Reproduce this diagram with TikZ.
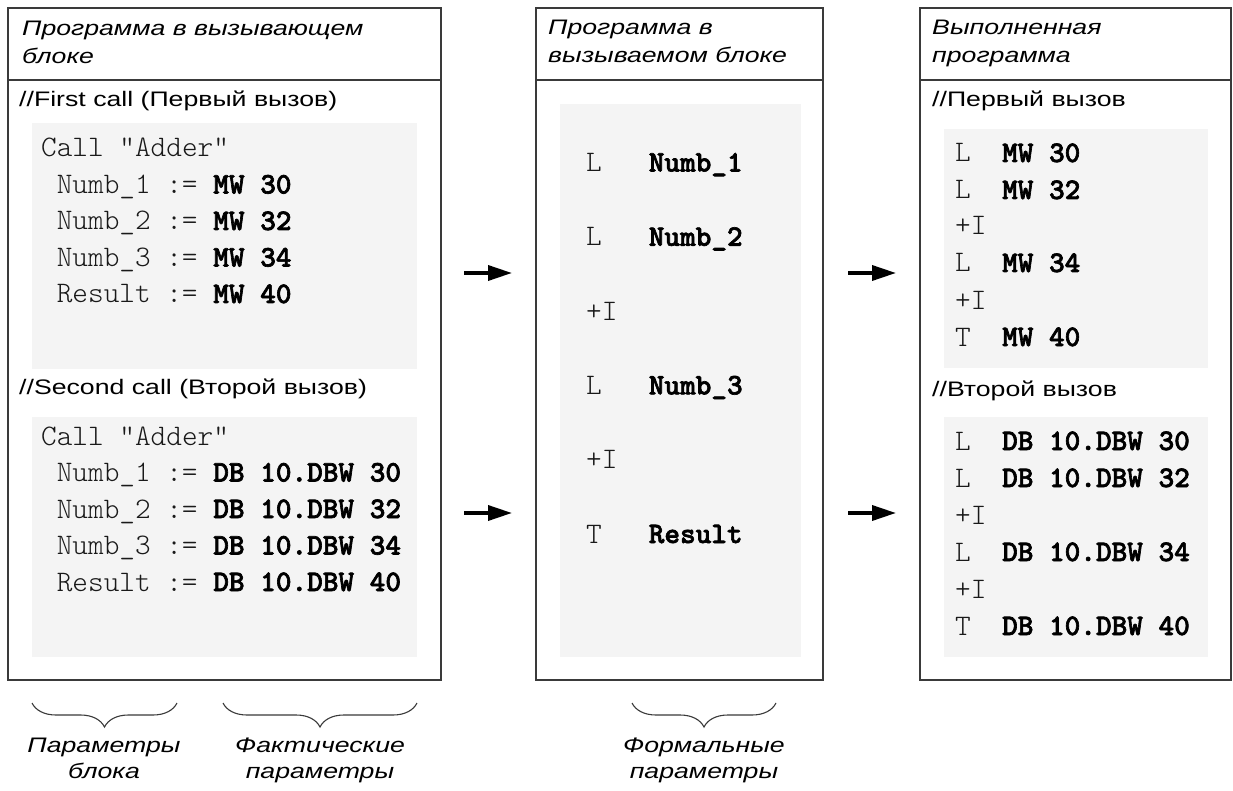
\documentclass[tikz,border=0pt]{standalone}
\usepackage{fontspec}
\setmainfont{Liberation Sans}[FakeStretch=1.27]
\newfontfamily\codeheavy{lmmonolt10-bold.otf}[FakeBold=2.2]
\usetikzlibrary{arrows.meta,decorations.pathreplacing}
\definecolor{codebg}{HTML}{F4F4F4}
\definecolor{framecol}{HTML}{3A3A3A}
\newcommand{\kw}[1]{{\codeheavy\color{black}#1}}
\begin{document}
\begin{tikzpicture}[x=1pt,y=-1pt,
  panel/.style={draw=framecol, line width=1.8pt, anchor=north west, inner sep=0, outer sep=0},
  divider/.style={draw=framecol, line width=1.8pt},
  codebox/.style={fill=codebg, anchor=north west, inner sep=0, outer sep=0},
  hdr/.style={anchor=base west, inner sep=0, font=\fontsize{21}{26}\selectfont\itshape},
  lbl/.style={anchor=base west, inner sep=0, font=\fontsize{21}{26}\selectfont},
  code/.style={anchor=base west, inner sep=0, text=black!90, font=\fontsize{29.8}{34}\ttfamily\fontseries{l}\selectfont},
  capt/.style={anchor=base, inner sep=0, font=\fontsize{21}{26}\selectfont\itshape},
  flow/.style={line width=3.5pt, -{Triangle[length=24pt,width=15pt]}},
  brc/.style={draw=framecol, line width=1.1pt, decorate, decoration={brace, mirror, amplitude=24pt, aspect=0.5}}
]
\fill[white] (0,0) rectangle (1233,791);
\useasboundingbox (0,0) rectangle (1233,791);

% panels
\node[panel, minimum width=433pt, minimum height=672pt] (p1) at (8,8) {};
\node[panel, minimum width=287pt, minimum height=672pt] (p2) at (536,8) {};
\node[panel, minimum width=311pt, minimum height=672pt] (p3) at (920,8) {};
\draw[divider] (p1.west |- 0,80) -- (p1.east |- 0,80);
\draw[divider] (p2.west |- 0,80) -- (p2.east |- 0,80);
\draw[divider] (p3.west |- 0,80) -- (p3.east |- 0,80);

% code backgrounds
\node[codebox, minimum width=385pt, minimum height=246pt] (c1a) at (32,123) {};
\node[codebox, minimum width=385pt, minimum height=240pt] (c1b) at (32,417) {};
\node[codebox, minimum width=241pt, minimum height=553pt] (c2) at (560,104) {};
\node[codebox, minimum width=264pt, minimum height=239pt] (c3a) at (944,129) {};
\node[codebox, minimum width=264pt, minimum height=240pt] (c3b) at (944,417) {};

% calling block
\node[hdr] (h1a) at (22,36) {Программа в вызывающем};
\node[hdr] (h1b) at (22,64) {блоке};
\node[lbl] (k1) at (19,107) {//First call (Первый вызов)};
\node[code] (l1a) at (41,157) {Call "Adder"};
\node[code] (l1b) at (41,193.5) {~Numb\_1 := \kw{MW 30}};
\node[code] (l1c) at (41,230) {~Numb\_2 := \kw{MW 32}};
\node[code] (l1d) at (41,266.5) {~Numb\_3 := \kw{MW 34}};
\node[code] (l1e) at (41,303) {~Result := \kw{MW 40}};
\node[lbl] (k2) at (19,394) {//Second call (Второй вызов)};
\node[code] (l2a) at (41,445) {Call "Adder"};
\node[code] (l2b) at (41,481.5) {~Numb\_1 := \kw{DB 10.DBW 30}};
\node[code] (l2c) at (41,518) {~Numb\_2 := \kw{DB 10.DBW 32}};
\node[code] (l2d) at (41,554.5) {~Numb\_3 := \kw{DB 10.DBW 34}};
\node[code] (l2e) at (41,591) {~Result := \kw{DB 10.DBW 40}};

% called block
\node[hdr] (h2a) at (548,35) {Программа в};
\node[hdr] (h2b) at (548,63) {вызываемом блоке};
\node[code] (m1) at (586,171.5) {L~~~\kw{Numb\_1}};
\node[code] (m2) at (586,245.8) {L~~~\kw{Numb\_2}};
\node[code] (m3) at (586,320) {+I};
\node[code] (m4) at (586,394.4) {L~~~\kw{Numb\_3}};
\node[code] (m5) at (586,468.7) {+I};
\node[code] (m6) at (586,543) {T~~~\kw{Result}};

% executed program
\node[hdr] (h3a) at (932,35) {Выполненная};
\node[hdr] (h3b) at (932,63) {программа};
\node[lbl] (k3) at (932,107) {//Первый вызов};
\node[code] (r1) at (955,162) {L~~\kw{MW 30}};
\node[code] (r2) at (955,199) {L~~\kw{MW 32}};
\node[code] (r3) at (955,235) {+I};
\node[code] (r4) at (955,272) {L~~\kw{MW 34}};
\node[code] (r5) at (955,309) {+I};
\node[code] (r6) at (955,346) {T~~\kw{MW 40}};
\node[lbl] (k4) at (932,396) {//Второй вызов};
\node[code] (s1) at (955,450) {L~~\kw{DB 10.DBW 30}};
\node[code] (s2) at (955,487) {L~~\kw{DB 10.DBW 32}};
\node[code] (s3) at (955,524) {+I};
\node[code] (s4) at (955,561) {L~~\kw{DB 10.DBW 34}};
\node[code] (s5) at (955,598) {+I};
\node[code] (s6) at (955,635) {T~~\kw{DB 10.DBW 40}};

% arrows between the panels
\coordinate (a1s) at (464,273); \coordinate (a1e) at (512,273);
\coordinate (a2s) at (464,513); \coordinate (a2e) at (512,513);
\coordinate (a3s) at (848,273); \coordinate (a3e) at (896,273);
\coordinate (a4s) at (848,513); \coordinate (a4e) at (896,513);
\draw[flow] (a1s) -- (a1e);
\draw[flow] (a2s) -- (a2e);
\draw[flow] (a3s) -- (a3e);
\draw[flow] (a4s) -- (a4e);

% braces with their captions
\coordinate (b1l) at (32,703);  \coordinate (b1r) at (177,703);
\coordinate (b2l) at (223,703); \coordinate (b2r) at (417,703);
\coordinate (b3l) at (632,703); \coordinate (b3r) at (776,703);
\draw[brc] (b1l) -- (b1r);
\draw[brc] (b2l) -- (b2r);
\draw[brc] (b3l) -- (b3r);
\node[capt] (t1a) at (104,752) {Параметры};
\node[capt] (t1b) at (104,778) {блока};
\node[capt] (t2a) at (320,752) {Фактические};
\node[capt] (t2b) at (320,778) {параметры};
\node[capt] (t3a) at (704,752) {Формальные};
\node[capt] (t3b) at (704,778) {параметры};
\end{tikzpicture}
\end{document}
